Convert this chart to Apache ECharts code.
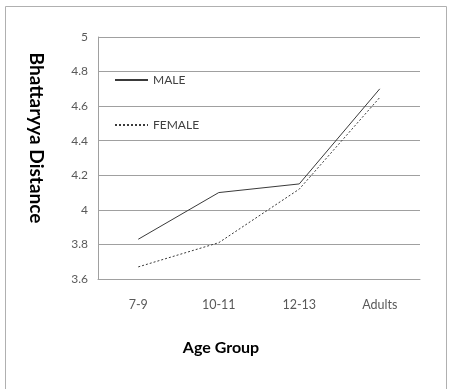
<!DOCTYPE html>
<html>
<head>
<meta charset="utf-8">
<script src="https://cdn.jsdelivr.net/npm/echarts@6/dist/echarts.min.js"></script>
<style>html,body{margin:0;padding:0;background:#fff}#c{width:450px;height:389px}</style>
</head>
<body>
<div id="c"></div>
<script>
var categories = ['7-9', '10-11', '12-13', 'Adults'];
var maleValues = [3.83, 4.10, 4.15, 4.70];
var femaleValues = [3.67, 3.81, 4.12, 4.65];
var yTicks = [3.6, 3.8, 4, 4.2, 4.4, 4.6, 4.8, 5];

var chart = echarts.init(document.getElementById('c'), null, {renderer: 'canvas'});
var font = 'Lato, "Open Sans", sans-serif';
chart.setOption({
  animation: false,
  backgroundColor: '#fff',
  grid: {left: 98, right: 30, top: 37, bottom: 110},
  legend: {
    orient: 'vertical', left: 109, top: 69, itemGap: 33,
    itemWidth: 33, itemHeight: 12,
    itemStyle: {opacity: 0},
    textStyle: {fontFamily: font, fontSize: 12, color: '#404040'},
    data: ['MALE', 'FEMALE']
  },
  xAxis: {
    type: 'category', data: categories, boundaryGap: true,
    axisLine: {lineStyle: {color: '#a0a0a0', width: 1}},
    axisTick: {show: false},
    axisLabel: {fontFamily: font, fontSize: 12.5, color: '#595959', margin: 19}
  },
  yAxis: {
    type: 'value', min: yTicks[0], max: yTicks[yTicks.length - 1], interval: 0.2,
    axisLine: {show: true, lineStyle: {color: '#a0a0a0', width: 1}},
    axisTick: {show: false},
    splitLine: {lineStyle: {color: '#a0a0a0', width: 1}},
    axisLabel: {fontFamily: font, fontSize: 12, color: '#595959', margin: 10,
      formatter: function (v) { return String(Math.round(v * 10) / 10); }}
  },
  series: [
    {name: 'MALE', type: 'line', data: maleValues, symbol: 'none',
     lineStyle: {color: '#3a3a3a', width: 1}, itemStyle: {color: '#3a3a3a'}},
    {name: 'FEMALE', type: 'line', data: femaleValues, symbol: 'none',
     lineStyle: {color: '#3a3a3a', width: 1, type: [2, 2]}, itemStyle: {color: '#3a3a3a'}}
  ],
  graphic: [
    {type: 'rect', shape: {x: 5.5, y: 6.5, width: 441, height: 400}, style: {fill: 'none', stroke: '#b0b0b0', lineWidth: 1}, silent: true},
    {type: 'text', x: 36, y: 138, rotation: -Math.PI / 2,
     style: {text: 'Bhattaryya Distance', fontFamily: font, fontSize: 19, fontWeight: 'bold', fill: '#000', textAlign: 'center', textVerticalAlign: 'middle'}},
    {type: 'text', x: 221, y: 348,
     style: {text: 'Age Group', fontFamily: font, fontSize: 16, fontWeight: 'bold', fill: '#000', textAlign: 'center', textVerticalAlign: 'middle'}}
  ]
});
</script>
</body>
</html>
